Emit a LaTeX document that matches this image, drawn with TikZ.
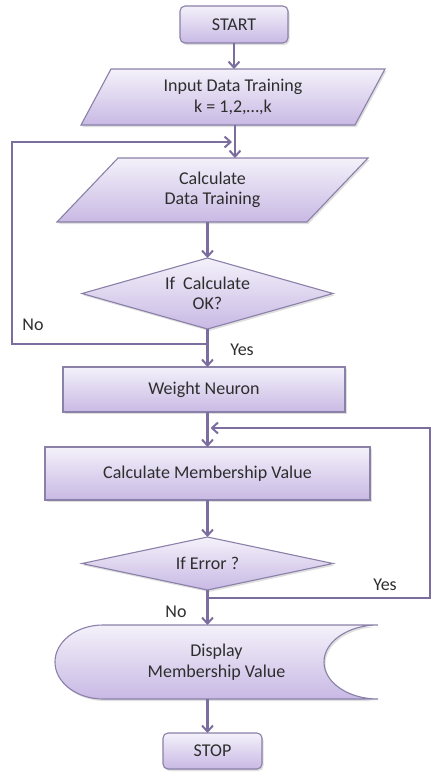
\documentclass[tikz,border=0pt]{standalone}
\usepackage{fontspec}
\setmainfont{Carlito}
\usetikzlibrary{arrows.meta,shadows,backgrounds}
\definecolor{edgec}{HTML}{8A80A8}
\definecolor{conn}{HTML}{7B6D9E}
\definecolor{ftop}{HTML}{F4F1FA}
\definecolor{fbot}{HTML}{C8B9E4}
\definecolor{txt}{HTML}{2E2E2E}
\begin{document}
\begin{tikzpicture}[x=1pt,y=1pt,
  lbl/.style={inner sep=0pt, outer sep=0pt, text=txt, font=\fontsize{18}{20.5}\selectfont, align=center},
  shp/.style={draw=edgec, line width=1.1pt, top color=ftop, bottom color=fbot,
    drop shadow={shadow xshift=1.5pt, shadow yshift=-2pt, opacity=0.25}},
  box/.style={lbl, shp},
  arr/.style={draw=conn, line width=2.4pt, -{Straight Barb[length=6pt,width=11pt,line width=2pt]}},
  ln/.style={draw=conn, line width=2.4pt}
]
\useasboundingbox (0,0) rectangle (431,-774);

% nodes
\node[box, rounded corners=5pt, minimum width=108pt, minimum height=37pt] (start) at (234,-24.5) {START};
\node[lbl, minimum width=274pt, minimum height=56pt] (in) at (233,-97) {Input Data Training\\k = 1,2,\dots,k};
\node[lbl, minimum width=250pt, minimum height=64pt] (calc) at (212.5,-190) {Calculate\\Data Training};
\node[lbl, minimum width=251pt, minimum height=71pt] (ok) at (207.5,-293.5) {If\ \ Calculate\\OK?};
\node[box, minimum width=282pt, minimum height=45pt] (wn) at (204,-389.5) {Weight Neuron};
\node[box, minimum width=325pt, minimum height=53pt] (cmv) at (207.5,-473.5) {Calculate Membership Value};
\node[lbl, minimum width=251pt, minimum height=53pt] (err) at (207.5,-563.5) {If Error ?};
\node[lbl, minimum width=323pt, minimum height=74pt] (disp) at (216.5,-662) {Display\\Membership Value};
\node[box, rounded corners=5pt, minimum width=99pt, minimum height=36pt] (stop) at (212.5,-751) {STOP};

% shapes behind the texts
\begin{scope}[on background layer]
\path[shp] ([xshift=15pt]in.north west) -- ([xshift=15pt]in.north east) -- ([xshift=-15pt]in.south east) -- ([xshift=-15pt]in.south west) -- cycle;
\path[shp] ([xshift=30.5pt]calc.north west) -- ([xshift=30.5pt]calc.north east) -- ([xshift=-30.5pt]calc.south east) -- ([xshift=-30.5pt]calc.south west) -- cycle;
\path[shp] (ok.north) -- (ok.east) -- (ok.south) -- (ok.west) -- cycle;
\path[shp] (err.north) -- (err.east) -- (err.south) -- (err.west) -- cycle;
\path[shp] (disp.north east) -- ([xshift=48pt]disp.north west)
  arc[start angle=90, end angle=270, x radius=48pt, y radius=37pt]
  -- (disp.south east)
  arc[start angle=270, end angle=90, x radius=54pt, y radius=37pt] -- cycle;
\end{scope}

% loop corner coordinates
\coordinate (nob) at (12,-344);
\coordinate (not) at (12,-142);
\coordinate (yb) at (430,-598);
\coordinate (yt) at (430,-428);

% connectors
\draw[arr] (start.south) -- (start.south |- in.north);
\draw[arr] ([xshift=2pt]in.south) -- ([xshift=2pt]in.south |- calc.north);
\draw[arr] (ok.north |- calc.south) -- (ok.north);
\draw[arr] (ok.south) -- (ok.south |- wn.north);
\draw[arr] (ok.south |- wn.south) -- (ok.south |- cmv.north);
\draw[arr] (err.north |- cmv.south) -- (err.north);
\draw[arr] (err.south) -- (err.south |- disp.north);
\draw[arr] (err.south |- disp.south) -- (err.south |- stop.north);
\draw[arr] (ok.south |- nob) -- (nob) -- (not) -- ([xshift=-1pt]in.south |- not);
\draw[arr] (err.south |- yb) -- (yb) -- (yt) -- ([xshift=3pt]err.south |- yt);

% labels
\node[lbl] (no1) at (33,-325) {No};
\node[lbl] (yes1) at (242,-350) {Yes};
\node[lbl] (yes2) at (385,-585) {Yes};
\node[lbl] (no2) at (176,-612) {No};
\end{tikzpicture}
\end{document}
